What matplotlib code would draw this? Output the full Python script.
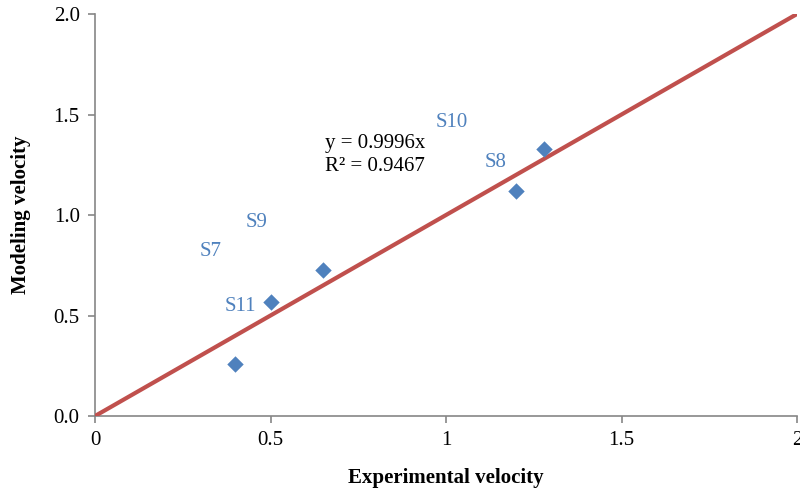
import matplotlib.pyplot as plt

# experimental vs modeling velocity
exp_vel = [0.40, 0.50, 0.65, 1.20, 1.28]
mod_vel = [0.26, 0.567, 0.726, 1.121, 1.328]

# sample labels and where they sit
labels = ['S7', 'S9', 'S11', 'S10', 'S8']
label_x = [0.33, 0.459, 0.413, 1.017, 1.14]
label_y = [0.816, 0.965, 0.547, 1.458, 1.259]

slope = 0.9996
r2 = 0.9467

blue = '#4F81BD'
red = '#C0504D'
grey = '#868686'

plt.rcParams['font.family'] = ['Liberation Serif', 'DejaVu Serif']

fig = plt.figure(figsize=(8, 4.88), dpi=100)
ax = fig.add_axes([0.11875, 0.1475, 0.8775, 0.8238])

# trendline (black) under the 1:1 line
tx = [min(exp_vel), max(exp_vel)]
ax.plot(tx, [slope * v for v in tx], color='black', lw=1.2, zorder=2)

# 1:1 line
ax.plot([0, 2], [0, 2], color=red, lw=3, zorder=3, solid_capstyle='butt')

ax.scatter(exp_vel, mod_vel, marker='D', s=70, color=blue, zorder=4, linewidths=0)

for lab, lx, ly in zip(labels, label_x, label_y):
    ax.text(lx, ly, lab, color=blue, fontsize=15, ha='center', va='center')

ax.text(0.655, 1.2985, 'y = %.4fx\nR² = %.4f' % (slope, r2), fontsize=15,
        ha='left', va='center', linespacing=1.25)

ax.set_xlim(0, 2)
ax.set_ylim(0, 2)
ax.set_xticks([0, 0.5, 1, 1.5, 2])
ax.set_xticklabels(['0', '0.5', '1', '1.5', '2'])
ax.set_yticks([0, 0.5, 1.0, 1.5, 2.0])
ax.set_yticklabels(['0.0', '0.5', '1.0', '1.5', '2.0'])

for s in ['top', 'right']:
    ax.spines[s].set_visible(False)
for s in ['left', 'bottom']:
    ax.spines[s].set_color(grey)
    ax.spines[s].set_linewidth(1.2)
ax.tick_params(direction='out', length=5, color=grey, width=1.2, labelsize=15, pad=6)

ax.set_xlabel('Experimental velocity', fontsize=15, fontweight='bold', labelpad=13)
ax.set_ylabel('Modeling velocity', fontsize=15, fontweight='bold', labelpad=16)

fig.savefig('out.png', dpi=100)
